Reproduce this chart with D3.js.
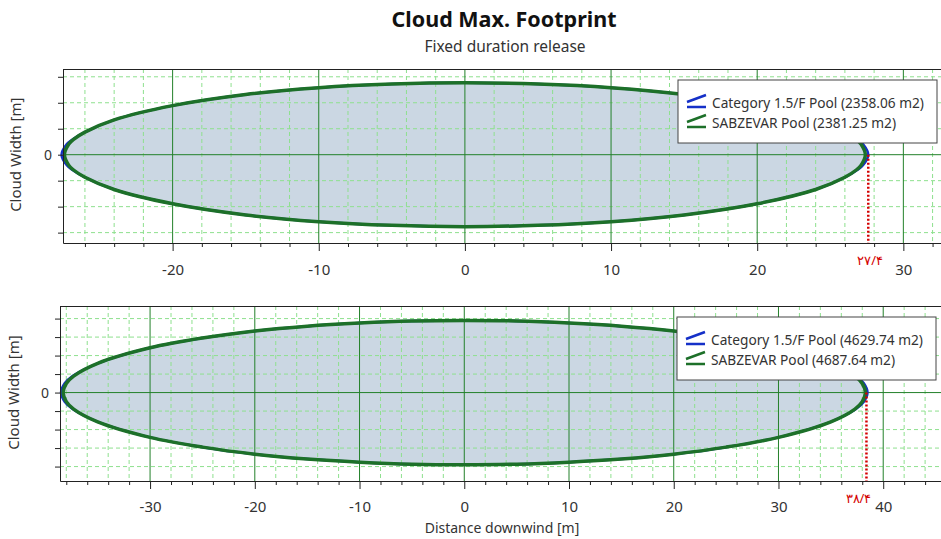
<!DOCTYPE html>
<html>
<head>
<meta charset="utf-8">
<script src="https://cdn.jsdelivr.net/npm/d3@7"></script>
<style>
  body { margin: 0; background: #fff; }
  text { font-family: "Noto Sans", "Open Sans", sans-serif; fill: #333; }
</style>
</head>
<body>
<div id="wrapper"></div>
<script>
// footprint outline: downwind distance and half width (m)
const topCatX = [-27.6, -27.25, -26.9, -26, -24, -20, -15, -10, -5, 0, 5, 10, 15, 20, 24, 26, 26.9, 27.25, 27.6];
const topCatW = [0, 4.0, 5.7, 8.7, 13.4, 18.9, 23.2, 25.8, 27.2, 27.7, 27.2, 25.8, 23.2, 18.9, 13.4, 8.7, 5.7, 4.0, 0];
const topSabX = [-27.4, -27.1, -26.8, -26, -24, -20, -15, -10, -5, 0, 5, 10, 15, 20, 24, 26, 26.8, 27.1, 27.4];
const topSabW = [0, 4.1, 5.8, 8.7, 13.4, 18.9, 23.2, 25.8, 27.2, 27.7, 27.2, 25.8, 23.2, 18.9, 13.4, 8.7, 5.8, 4.1, 0];

const botCatX = [-38.5, -38.15, -37.4, -35, -30, -25, -20, -15, -10, -5, 0, 5, 10, 15, 20, 25, 30, 35, 37.4, 38.15, 38.5];
const botCatW = [0, 5.0, 8.9, 15.8, 24.2, 29.5, 33.3, 35.9, 37.6, 38.7, 39.0, 38.7, 37.6, 35.9, 33.3, 29.5, 24.2, 15.8, 8.9, 5.0, 0];
const botSabX = [-38.3, -38, -37.3, -35, -30, -25, -20, -15, -10, -5, 0, 5, 10, 15, 20, 25, 30, 35, 37.3, 38, 38.3];
const botSabW = [0, 4.9, 8.9, 15.8, 24.2, 29.5, 33.3, 35.9, 37.6, 38.7, 39.0, 38.7, 37.6, 35.9, 33.3, 29.5, 24.2, 15.8, 8.9, 4.9, 0];

const topLegend = ["Category 1.5/F Pool (2358.06 m2)", "SABZEVAR Pool (2381.25 m2)"];
const botLegend = ["Category 1.5/F Pool (4629.74 m2)", "SABZEVAR Pool (4687.64 m2)"];

const topXTicks = [-20, -10, 0, 10, 20, 30];
const botXTicks = [-30, -20, -10, 0, 10, 20, 30, 40];
const topYTicks = [-30, -20, -10, 0, 10, 20, 30];
const botYTicks = [-40, -30, -20, -10, 0, 10, 20, 30, 40];

const topMarker = 27.6, topMarkerLabel = "۲۷/۴";
const botMarker = 38.4, botMarkerLabel = "۳۸/۴";

const catColor = "#1530c8";
const sabColor = "#1d7029";

const svg = d3.select("#wrapper").append("svg")
    .attr("width", 941)
    .attr("height", 539);

svg.append("text")
    .attr("x", 504).attr("y", 27)
    .attr("text-anchor", "middle")
    .style("font-size", "21.5px").style("font-weight", "bold").style("fill", "#111")
    .text("Cloud Max. Footprint");
svg.append("text")
    .attr("x", 505).attr("y", 52)
    .attr("text-anchor", "middle")
    .style("font-size", "15.5px")
    .text("Fixed duration release");

function drawPanel(p) {
    const x = d3.scaleLinear().domain(p.xDomain).range([p.left, 945]);
    const y = d3.scaleLinear().domain(p.yDomain).range([p.bottom, p.top]);
    const g = svg.append("g");

    const outline = (xs, ws) => {
        const pts = xs.map((d, i) => [d, ws[i]]);
        const lower = xs.map((d, i) => [d, -ws[i]]).slice(1, -1).reverse();
        return pts.concat(lower);
    };
    const line = d3.line()
        .x(d => x(d[0]))
        .y(d => y(d[1]))
        .curve(d3.curveCatmullRomClosed.alpha(0.5));

    // fill first, grid over it
    g.append("path").attr("d", line(outline(p.sabX, p.sabW))).attr("fill", "#cbd7e3");

    const minor = d3.range(Math.ceil(p.xDomain[0] / 2) * 2, p.xDomain[1], 2).filter(d => d % 10 !== 0);
    const major = d3.range(Math.ceil(p.xDomain[0] / 10) * 10, p.xDomain[1], 10);
    g.selectAll(".vminor").data(minor).join("line")
        .attr("x1", d => x(d)).attr("x2", d => x(d))
        .attr("y1", p.top).attr("y2", p.bottom)
        .attr("stroke", "#8ee08e").attr("stroke-dasharray", "4,3");
    g.selectAll(".hminor").data(p.yTicks.filter(d => d !== 0)).join("line")
        .attr("x1", p.left).attr("x2", 941)
        .attr("y1", d => y(d)).attr("y2", d => y(d))
        .attr("stroke", "#8ee08e").attr("stroke-dasharray", "4,3");
    g.selectAll(".vmajor").data(major).join("line")
        .attr("x1", d => x(d)).attr("x2", d => x(d))
        .attr("y1", p.top).attr("y2", p.bottom)
        .attr("stroke", "#23802a");
    g.append("line")
        .attr("x1", p.left).attr("x2", 941)
        .attr("y1", y(0)).attr("y2", y(0))
        .attr("stroke", "#23802a");

    g.append("path").attr("d", line(outline(p.catX, p.catW)))
        .attr("fill", "none").attr("stroke", catColor).attr("stroke-width", 2.5);
    g.append("path").attr("d", line(outline(p.sabX, p.sabW)))
        .attr("fill", "none").attr("stroke", sabColor).attr("stroke-width", 3.5);

    // red marker at cloud tip
    g.append("line")
        .attr("x1", x(p.marker)).attr("x2", x(p.marker))
        .attr("y1", y(0)).attr("y2", p.bottom)
        .attr("stroke", "#d40000").attr("stroke-width", 2.5).attr("stroke-dasharray", "2,2");

    // frame
    g.append("line").attr("x1", p.left).attr("x2", 941).attr("y1", p.top + 0.5).attr("y2", p.top + 0.5)
        .attr("stroke", "#222");

    const xAxis = g.append("g")
        .attr("transform", `translate(0,${p.bottom})`)
        .call(d3.axisBottom(x).tickValues(major).tickSize(8).tickSizeOuter(0)
            .tickFormat(d => p.xTicks.includes(d) ? d : ""));
    xAxis.selectAll("text").style("font-size", "15px").attr("y", p.tickBase).attr("dy", 0);
    g.append("g")
        .attr("transform", `translate(0,${p.bottom})`)
        .call(d3.axisBottom(x).tickValues(minor).tickSize(4).tickFormat(""))
        .select(".domain").remove();

    const yAxis = g.append("g")
        .attr("transform", `translate(${p.left},0)`)
        .call(d3.axisLeft(y).tickValues(p.yTicks).tickSize(5).tickSizeOuter(0)
            .tickFormat(d => d === 0 ? "0" : ""));
    yAxis.selectAll("text").style("font-size", "14px").attr("dx", "-3px");
    g.selectAll(".domain, .tick line").attr("stroke", "#222");

    g.append("text")
        .attr("transform", `translate(${p.yLabelX},${y(0)}) rotate(-90)`)
        .attr("text-anchor", "middle")
        .style("font-size", "15px")
        .text("Cloud Width [m]");

    g.append("text")
        .attr("x", x(p.marker) + p.markerDx).attr("y", p.markerY)
        .attr("text-anchor", "middle")
        .style("font-size", "13px").style("fill", "#d40000")
        .text(p.markerLabel);

    // legend
    const lg = g.append("g").attr("transform", `translate(${p.legendX},${p.legendY})`);
    lg.append("rect").attr("width", 259).attr("height", 63)
        .attr("fill", "#fff").attr("stroke", "#444");
    [catColor, sabColor].forEach((c, i) => {
        const row = lg.append("g").attr("transform", `translate(0,${i * 20})`);
        row.append("path").attr("d", "M9,22 L28,15 M9,27 L28,27")
            .attr("stroke", c).attr("stroke-width", 2.5).attr("fill", "none");
        row.append("text").attr("x", 34).attr("y", 28)
            .style("font-size", "13.7px")
            .text(p.legend[i]);
    });
}

drawPanel({
    left: 63, top: 69, bottom: 243,
    xDomain: [-27.5, 32.85], yDomain: [-34, 33],
    xTicks: topXTicks, yTicks: topYTicks,
    catX: topCatX, catW: topCatW, sabX: topSabX, sabW: topSabW,
    marker: topMarker, markerLabel: topMarkerLabel, markerDx: 2, markerY: 265,
    legend: topLegend, legendX: 678, legendY: 80, yLabelX: 21, tickBase: 32
});

drawPanel({
    left: 60, top: 306, bottom: 481,
    xDomain: [-38.6, 45.9], yDomain: [-47.8, 46.8],
    xTicks: botXTicks, yTicks: botYTicks,
    catX: botCatX, catW: botCatW, sabX: botSabX, sabW: botSabW,
    marker: botMarker, markerLabel: botMarkerLabel, markerDx: -8, markerY: 503,
    legend: botLegend, legendX: 677, legendY: 317, yLabelX: 19, tickBase: 31
});

svg.append("text")
    .attr("x", 502).attr("y", 533)
    .attr("text-anchor", "middle")
    .style("font-size", "14px")
    .text("Distance downwind [m]");
</script>
</body>
</html>
